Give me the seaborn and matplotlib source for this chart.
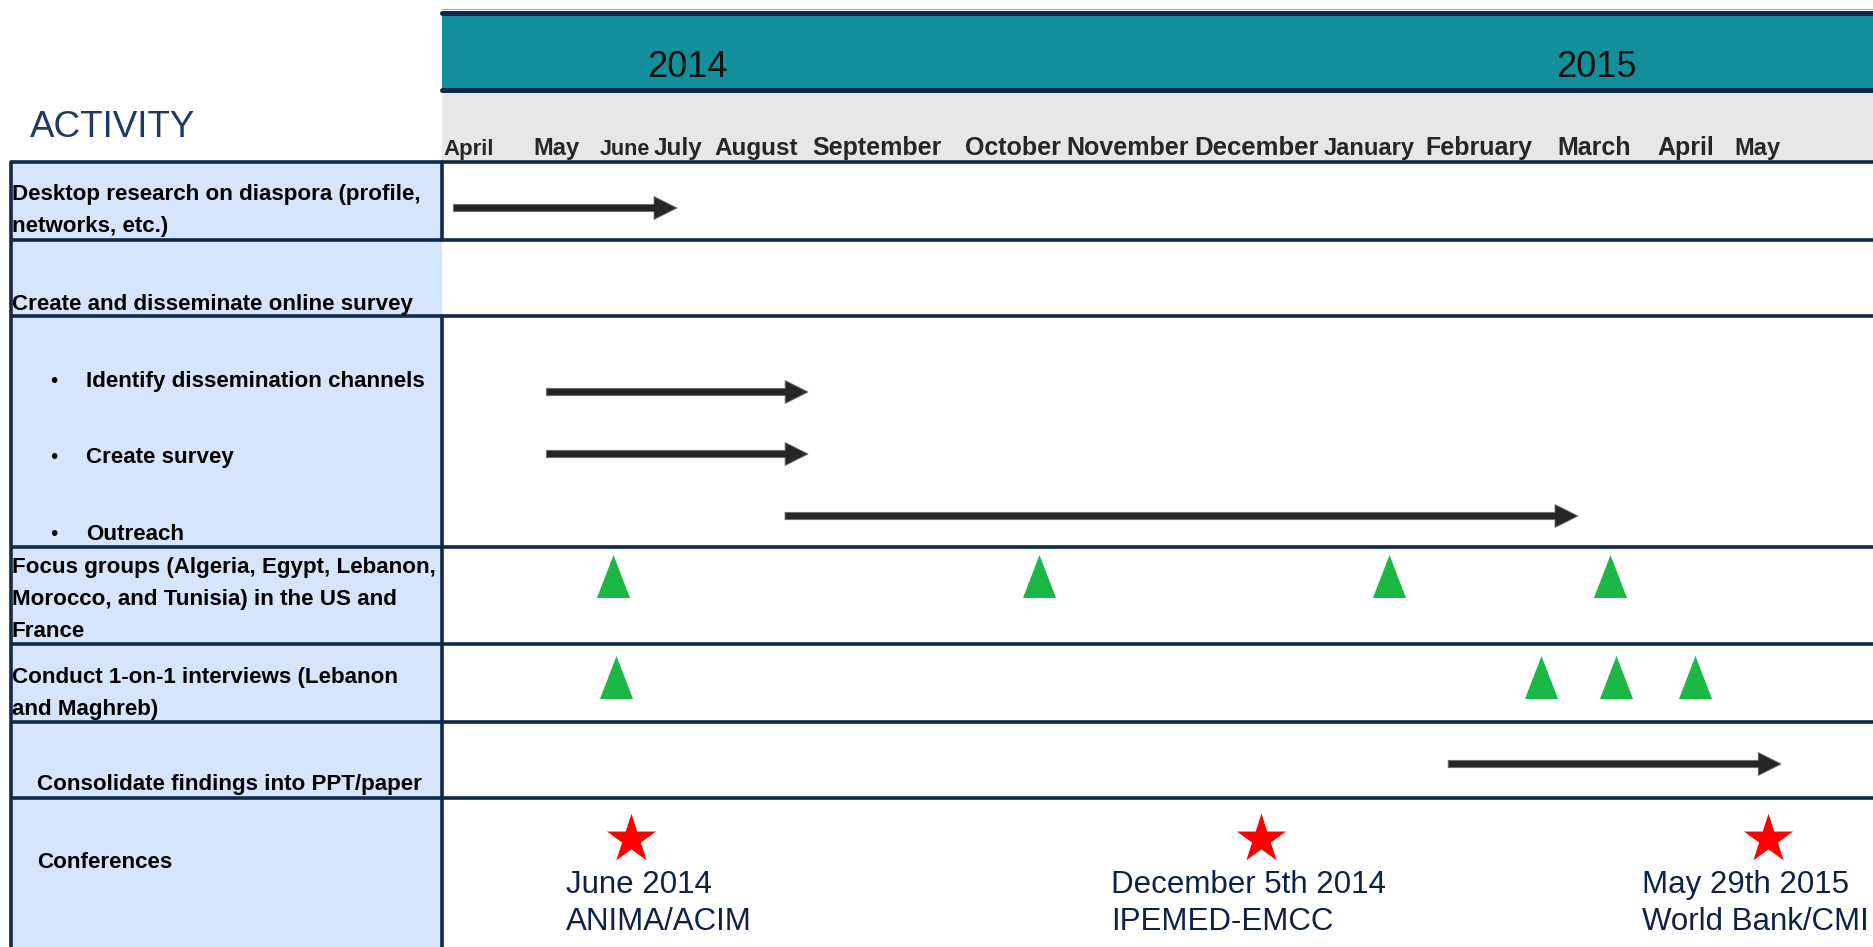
import numpy as np
import pandas as pd
import matplotlib
matplotlib.use("Agg")
import matplotlib.pyplot as plt
import seaborn as sns
from matplotlib.path import Path
from matplotlib.patches import Rectangle

# ---- chart content ----
years = ["2014", "2015"]
year_month = [3.12, 11.03]  # year label sits over July 2014 / March 2015
months = ["April", "May", "June", "July", "August", "September", "October",
          "November", "December", "January", "February", "March", "April", "May"]

activities = [
    "Desktop research on diaspora (profile,\nnetworks, etc.)",
    "Create and disseminate online survey",
    "Identify dissemination channels",
    "Create survey",
    "Outreach",
    "Focus groups (Algeria, Egypt, Lebanon,\nMorocco, and Tunisia) in the US and\nFrance",
    "Conduct 1-on-1 interviews (Lebanon\nand Maghreb)",
    "Consolidate findings into PPT/paper",
    "Conferences",
]
bulleted = [False, False, True, True, True, False, False, False, False]

# month index: 0 = April 2014 ... 13 = May 2015
arrow_tasks = ["Desktop research", "Identify dissemination channels",
               "Create survey", "Outreach", "Consolidate findings"]
arrow_start = [-0.18, 0.89, 0.89, 4.24, 9.72]
arrow_end = [2.98, 4.43, 4.43, 10.86, 13.34]

focus_groups = [1.83, 6.23, 9.18, 11.17]
interviews = [1.87, 10.54, 11.24, 12.13]
conferences = [2.11, 8.04, 13.15]
conference_labels = ["June 2014\nANIMA/ACIM",
                     "December 5th 2014\nIPEMED-EMCC",
                     "May 29th 2015\nWorld Bank/CMI"]

# ---- layout (pixels) ----
W, H = 1874, 947
col_left, col_right = 11, 442
row_lines = [162, 240, 316, 547, 644, 722, 798]
month_px = [469, 556, 625, 678, 756, 877, 1013, 1128, 1257, 1369, 1479, 1594, 1686, 1757]
month_size = [16, 17, 15.5, 17.5, 17.5, 18, 18, 18, 18.5, 17, 18, 18, 18, 17]
label_pos = [(12, 200), (12, 310), (86, 387), (86, 463), (86, 540),
             (12, 573), (12, 683), (37, 790), (37, 868)]
line_gap = 32
arrow_y = [208, 392, 454, 516, 764]
focus_y, interview_y, conf_y = 576, 677, 839
conf_dx = [-65, -150, -126]

NAVY = "#0f2a4a"
TEAL = "#138f9c"
GREY = "#e7e7ea"
LIGHT_BLUE = "#d5e5fb"
GREEN = "#1bb845"

sns.set_theme(style="white")
plt.rcParams["font.family"] = ["Liberation Sans", "DejaVu Sans"]


def make_scale(xp, fp):
    xp = np.asarray(xp, float)
    fp = np.asarray(fp, float)

    def f(x):
        x = np.asarray(x, float)
        y = np.interp(x, xp, fp)
        y = np.where(x < xp[0], fp[0] + (x - xp[0]) * (fp[1] - fp[0]) / (xp[1] - xp[0]), y)
        y = np.where(x > xp[-1], fp[-1] + (x - xp[-1]) * (fp[-1] - fp[-2]) / (xp[-1] - xp[-2]), y)
        return y
    return f


month_idx = np.arange(len(months))
fwd = make_scale(month_idx, month_px)
inv = make_scale(month_px, month_idx)

fig = plt.figure(figsize=(W / 100, H / 100), dpi=100)

# background grid in pixel coordinates
bg = fig.add_axes([0, 0, 1, 1])
bg.set_xlim(0, W)
bg.set_ylim(H, 0)
bg.axis("off")

bg.add_patch(Rectangle((col_right, 92), W - col_right, 70, color=GREY, lw=0))
bg.add_patch(Rectangle((col_right, 12), W - col_right, 78, color=TEAL, lw=0))
bg.plot([col_right, W], [9, 9], color="#9aa8b8", lw=0.8)
bg.plot([col_right, W], [12.5, 12.5], color=NAVY, lw=3.6)
bg.plot([col_right, W], [89.5, 89.5], color=NAVY, lw=3.6)
bg.add_patch(Rectangle((col_left, 162), col_right - col_left, H - 162, color=LIGHT_BLUE, lw=0))

for y in row_lines:
    bg.plot([col_left, W], [y, y], color=NAVY, lw=2.6, solid_capstyle="butt")
bg.plot([col_left, col_left], [162, H], color=NAVY, lw=2.6)
bg.plot([col_right, col_right], [162, 240], color=NAVY, lw=2.6)
bg.plot([col_right, col_right], [316, H], color=NAVY, lw=2.6)

bg.text(30, 137, "ACTIVITY", fontsize=26.5, color="#1f3864", va="baseline", ha="left")

for name, bullet, (x, y) in zip(activities, bulleted, label_pos):
    if bullet:
        bg.text(54, y, "\u2022", fontsize=15, color="black", va="baseline", ha="center")
    for i, line in enumerate(name.split("\n")):
        bg.text(x, y + i * line_gap, line, fontsize=16.1, fontweight="bold",
                color="black", va="baseline", ha="left")

# timeline on a month axis
ax = fig.add_axes([col_right / W, 0, (W - col_right) / W, 1])
ax.patch.set_alpha(0)
ax.set_xscale("function", functions=(fwd, inv))

for m, label, fs in zip(month_idx, months, month_size):
    ax.text(m, 155, label, fontsize=fs, fontweight="bold", ha="center", va="baseline")
for m, yr in zip(year_month, years):
    ax.text(m, 77, yr, fontsize=26, color="#111111", ha="center", va="baseline")

for s, e, y in zip(arrow_start, arrow_end, arrow_y):
    ax.annotate("", xy=(e, y), xytext=(s, y),
                arrowprops=dict(arrowstyle="simple,head_length=1.0,head_width=1.0,tail_width=0.32",
                                mutation_scale=16.5, fc="#262626", ec="#707070", lw=0.6,
                                shrinkA=0, shrinkB=0))

tri = Path([(0, 1), (-0.77, -1), (0.77, -1), (0, 1)],
           [Path.MOVETO, Path.LINETO, Path.LINETO, Path.CLOSEPOLY])
marks = pd.DataFrame({
    "month": focus_groups + interviews,
    "y": [focus_y] * len(focus_groups) + [interview_y] * len(interviews),
})
sns.scatterplot(data=marks, x="month", y="y", marker=tri, s=958, color=GREEN,
                linewidth=0, ax=ax, legend=False)

conf = pd.DataFrame({"month": conferences, "y": [conf_y] * len(conferences)})
sns.scatterplot(data=conf, x="month", y="y", marker="*", s=1377, color="#ff0000",
                linewidth=0, ax=ax, legend=False)

for m, label, dx in zip(conferences, conference_labels, conf_dx):
    for i, line in enumerate(label.split("\n")):
        ax.annotate(line, xy=(m, conf_y), xytext=(dx, -(893 - conf_y) - i * 37),
                    textcoords="offset pixels", fontsize=22.5, color="#0e2244",
                    ha="left", va="baseline")

ax.set_xlim(float(inv(col_right)), float(inv(W)))
ax.set_ylim(H, 0)
ax.axis("off")

fig.savefig("out.png", dpi=100)
